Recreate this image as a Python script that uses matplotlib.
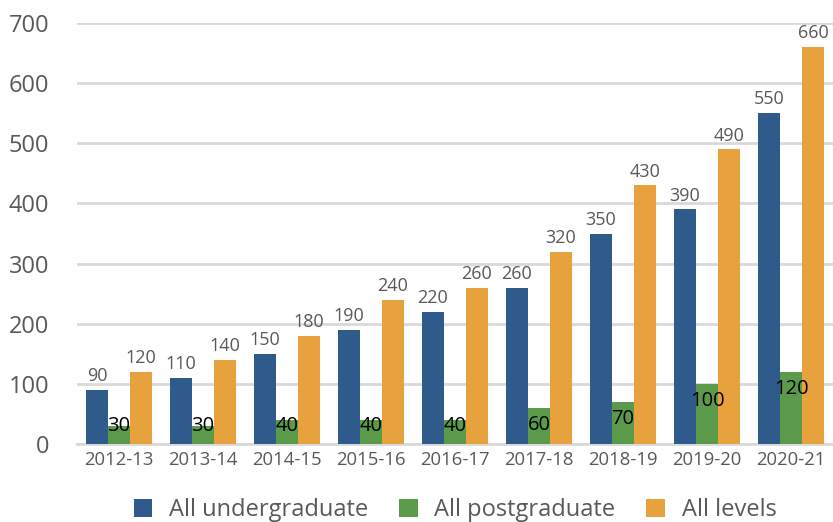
import matplotlib.pyplot as plt
import numpy as np

years = ["2012-13", "2013-14", "2014-15", "2015-16", "2016-17",
         "2017-18", "2018-19", "2019-20", "2020-21"]
undergrad = [90, 110, 150, 190, 220, 260, 350, 390, 550]
postgrad = [30, 30, 40, 40, 40, 60, 70, 100, 120]
all_levels = [120, 140, 180, 240, 260, 320, 430, 490, 660]

BLUE = "#2E5A8C"
GREEN = "#5B9A4B"
ORANGE = "#E7A13D"
GREY = "#595959"

plt.rcParams["font.family"] = ["Open Sans", "DejaVu Sans"]


def main() -> None:
    fig = plt.figure(figsize=(8.33, 5.22), dpi=100)
    ax = fig.add_axes([0.0924, 0.1494, 0.9076, 0.8065])

    x = np.arange(len(years))
    w = 0.262

    b1 = ax.bar(x - w, undergrad, w, color=BLUE, label="All undergraduate", zorder=3)
    b2 = ax.bar(x, postgrad, w, color=GREEN, label="All postgraduate", zorder=3)
    b3 = ax.bar(x + w, all_levels, w, color=ORANGE, label="All levels", zorder=3)

    # value labels
    for xi, v in zip(x - w, undergrad):
        ax.text(xi, v + 8, str(v), ha="center", va="bottom", fontsize=13,
                color=GREY, zorder=4)
    for xi, v in zip(x + w, all_levels):
        ax.text(xi, v + 8, str(v), ha="center", va="bottom", fontsize=13,
                color=GREY, zorder=4)
    for xi, v in zip(x, postgrad):
        ax.text(xi, max(v - 28, 30), str(v), ha="center", va="center",
                fontsize=14.5, color="black", zorder=4)

    ax.set_xlim(-0.5, len(years) - 0.5)
    ax.set_ylim(0, 700)
    ax.set_yticks(range(0, 701, 100))
    ax.set_xticks(x)
    ax.set_xticklabels(years, fontsize=13.3, color=GREY)
    ax.tick_params(axis="y", labelsize=17, colors=GREY, length=0, pad=20)
    ax.tick_params(axis="x", length=0, pad=5)

    ax.grid(axis="y", color="#D9D9D9", linewidth=2, zorder=0)
    for s in ["top", "right", "left"]:
        ax.spines[s].set_visible(False)
    ax.spines["bottom"].set_color("#D9D9D9")
    ax.spines["bottom"].set_linewidth(2)

    ax.legend(handles=[b1, b2, b3], loc="center", bbox_to_anchor=(0.5, -0.157),
              ncol=3, frameon=False, fontsize=17, labelcolor=GREY,
              handlelength=0.8, handleheight=0.8, handletextpad=0.7,
              columnspacing=1.3)

    fig.savefig("out.png", dpi=100)


if __name__ == "__main__":
    main()
